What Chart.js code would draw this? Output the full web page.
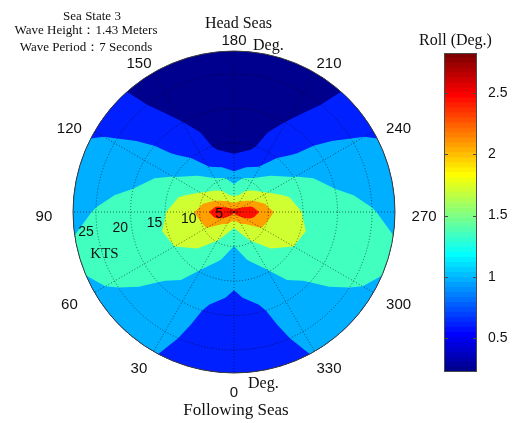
<!DOCTYPE html>
<html>
<head>
<meta charset="utf-8">
<script src="https://cdn.jsdelivr.net/npm/chart.js@4"></script>
<style>
  html, body { margin: 0; padding: 0; background: #fff; }
  #wrap { position: relative; width: 512px; height: 423px; }
  #wrap canvas { position: absolute; left: 0; top: 0; }
</style>
</head>
<body>
<div id="wrap">
  <canvas id="polar" width="512" height="423"></canvas>
  <canvas id="colorbar" width="512" height="423"></canvas>
</div>
<script>
// roll amplitude (deg) by heading (deg) and ship speed (kts), port side; starboard mirrors it
const headings = [0, 15, 30, 45, 60, 75, 90, 105, 120, 135, 150, 165, 180];
const speeds = [5, 7.5, 10, 12.5, 15, 17.5, 20, 22.5, 25, 28.33];

const roll000 = [2.50, 1.67, 1.33, 1.17, 1.02, 0.92, 0.85, 0.80, 0.75, 0.70];
const roll015 = [2.50, 1.77, 1.51, 1.31, 1.18, 1.04, 0.91, 0.85, 0.80, 0.74];
const roll030 = [2.55, 1.97, 1.69, 1.47, 1.32, 1.26, 1.20, 1.14, 1.08, 1.00];
const roll045 = [2.65, 2.08, 1.89, 1.71, 1.56, 1.41, 1.30, 1.23, 1.15, 1.05];
const roll060 = [2.70, 2.35, 2.04, 1.87, 1.71, 1.63, 1.55, 1.47, 1.39, 1.28];
const roll075 = [2.78, 2.55, 2.09, 1.92, 1.74, 1.65, 1.58, 1.52, 1.47, 1.41];
const roll090 = [2.83, 2.70, 2.17, 1.90, 1.70, 1.62, 1.52, 1.44, 1.36, 1.25];
const roll105 = [2.78, 2.52, 2.02, 1.77, 1.59, 1.43, 1.31, 1.25, 1.19, 1.12];
const roll120 = [2.70, 2.23, 1.77, 1.55, 1.35, 1.26, 1.18, 1.09, 1.01, 0.93];
const roll135 = [2.65, 2.02, 1.61, 1.33, 1.06, 0.92, 0.85, 0.78, 0.71, 0.66];
const roll150 = [2.60, 1.89, 1.48, 0.98, 0.84, 0.72, 0.60, 0.50, 0.42, 0.36];
const roll165 = [2.60, 1.71, 1.36, 0.79, 0.52, 0.45, 0.39, 0.34, 0.30, 0.27];
const roll180 = [2.60, 1.65, 1.15, 0.65, 0.50, 0.42, 0.36, 0.32, 0.28, 0.25];
const rollRows = [roll000, roll015, roll030, roll045, roll060, roll075, roll090,
                  roll105, roll120, roll135, roll150, roll165, roll180];

const headingLabels = ['180', '210', '240', '270', '300', '330', '0', '30', '60', '90', '120', '150'];
const speedTicks = [5, 10, 15, 20, 25];
const contourLevels = [0.593, 0.966, 1.339, 1.712, 2.085, 2.458, 2.75];
const colorbarTicks = [0.5, 1, 1.5, 2, 2.5];
const rollMin = 0.22;
const rollMax = 2.83;

const SANS = '"Liberation Sans", Arial, Helvetica, sans-serif';
const SERIF = '"Liberation Serif", "Times New Roman", Times, serif';

// MATLAB-style jet(64)
function jet64() {
  const n = 64, m = 16, u = [];
  for (let i = 1; i <= m; i++) u.push(i / m);
  for (let i = 1; i < m; i++) u.push(1);
  for (let i = m; i >= 1; i--) u.push(i / m);
  const g0 = Math.ceil(m / 2);
  const rows = Array.from({ length: n }, () => [0, 0, 0]);
  u.forEach((val, k) => {
    const gi = g0 + k + 1, ri = gi + m, bi = gi - m;
    if (ri >= 1 && ri <= n) rows[ri - 1][0] = val;
    if (gi >= 1 && gi <= n) rows[gi - 1][1] = val;
    if (bi >= 1 && bi <= n) rows[bi - 1][2] = val;
  });
  return rows.map(([r, g, b]) =>
    `rgb(${Math.round(r * 255)},${Math.round(g * 255)},${Math.round(b * 255)})`);
}
const jet = jet64();
const nBands = contourLevels.length + 1;
const bandColors = Array.from({ length: nBands }, (_, k) =>
  jet[Math.min(jet.length - 1, Math.floor(k * jet.length / (nBands - 1)))]);

// full-circle columns: 0..360 with the starboard half mirrored
function rollColumns() {
  const cols = [];
  for (let i = 0; i < headings.length; i++) cols.push({ h: headings[i], v: rollRows[i] });
  for (let i = headings.length - 2; i >= 0; i--) cols.push({ h: 360 - headings[i], v: rollRows[i] });
  return cols;
}

// keep the part of a cell where roll >= level (values linear along cell edges)
function clipCell(poly, level) {
  const out = [];
  for (let i = 0; i < poly.length; i++) {
    const a = poly[i], b = poly[(i + 1) % poly.length];
    const aIn = a.v >= level, bIn = b.v >= level;
    if (aIn) out.push(a);
    if (aIn !== bIn) {
      const t = (level - a.v) / (b.v - a.v);
      out.push({ h: a.h + t * (b.h - a.h), s: a.s + t * (b.s - a.s), v: level });
    }
  }
  return out;
}

function tracePoly(ctx, poly, pt) {
  const p0 = pt(poly[0].h, poly[0].s);
  ctx.moveTo(p0.x, p0.y);
  for (let i = 0; i < poly.length; i++) {
    const a = poly[i], b = poly[(i + 1) % poly.length];
    if (Math.abs(a.s - b.s) < 1e-9 && a.h !== b.h) {
      // follow the speed ring
      const n = Math.max(1, Math.ceil(Math.abs(b.h - a.h)));
      for (let j = 1; j <= n; j++) {
        const p = pt(a.h + (b.h - a.h) * j / n, a.s);
        ctx.lineTo(p.x, p.y);
      }
    } else {
      const p = pt(b.h, b.s);
      ctx.lineTo(p.x, p.y);
    }
  }
  ctx.closePath();
}

const rollContour = {
  id: 'rollContour',
  beforeDraw(chart) {
    const r = chart.scales.r, ctx = chart.ctx;
    const pt = (h, s) => r.getPointPosition((h + 180) / 30, r.getDistanceFromCenterForValue(s));
    const cols = rollColumns();
    ctx.save();
    for (let k = 0; k < nBands; k++) {
      const level = k === 0 ? -Infinity : contourLevels[k - 1];
      ctx.beginPath();
      for (let i = 0; i < cols.length - 1; i++) {
        const c0 = cols[i], c1 = cols[i + 1];
        for (let j = 0; j < speeds.length - 1; j++) {
          const cell = [
            { h: c0.h, s: speeds[j], v: c0.v[j] },
            { h: c1.h, s: speeds[j], v: c1.v[j] },
            { h: c1.h, s: speeds[j + 1], v: c1.v[j + 1] },
            { h: c0.h, s: speeds[j + 1], v: c0.v[j + 1] },
          ];
          const poly = clipCell(cell, level);
          if (poly.length >= 3) tracePoly(ctx, poly, pt);
        }
      }
      ctx.fillStyle = bandColors[k];
      ctx.fill();
    }
    ctx.restore();
  },
  afterDraw(chart) {
    const r = chart.scales.r, ctx = chart.ctx;
    const cx = r.xCenter;
    ctx.save();
    ctx.fillStyle = '#111';

    // heading labels
    ctx.font = '15px ' + SANS;
    ctx.textAlign = 'center';
    ctx.textBaseline = 'middle';
    headingLabels.forEach((lab, i) => {
      const p = r.getPointPosition(i, r.drawingArea + 15);
      ctx.fillText(lab, cx + (p.x - cx) * 1.08, p.y + 4.5);
    });

    // speed ring labels
    ctx.font = '14px ' + SANS;
    ctx.textAlign = 'left';
    speedTicks.forEach(v => {
      const p = r.getPointPosition((82.6 + 180) / 30, r.getDistanceFromCenterForValue(v) + 19);
      ctx.fillText(String(v), p.x, p.y);
    });

    ctx.textBaseline = 'alphabetic';
    ctx.font = '15px ' + SERIF;
    ctx.textAlign = 'center';
    ctx.fillText('KTS', 104.5, 258);

    ctx.font = '16px ' + SERIF;
    ctx.fillText('Head Seas', 238.5, 28);
    ctx.font = '17px ' + SERIF;
    ctx.fillText('Following Seas', 236, 415);
    ctx.font = '16px ' + SERIF;
    ctx.textAlign = 'left';
    ctx.fillText('Deg.', 253, 50);
    ctx.fillText('Deg.', 248, 388);

    ctx.font = '13px ' + SERIF;
    ctx.textAlign = 'center';
    ctx.fillText('Sea State 3', 92, 20);
    ctx.fillText('Wave Height\uFF1A1.43 Meters', 86, 34);
    ctx.fillText('Wave Period\uFF1A7 Seconds', 86, 51);
    ctx.restore();
  }
};

const outerSpeed = speeds[speeds.length - 1];
const dotted = 'rgba(0,0,0,0.55)';

new Chart(document.getElementById('polar'), {
  type: 'radar',
  data: { labels: headingLabels, datasets: [] },
  options: {
    responsive: false,
    animation: false,
    layout: { padding: { left: 73, right: 117, top: 51, bottom: 50 } },
    plugins: { legend: { display: false }, tooltip: { enabled: false } },
    scales: {
      r: {
        min: speeds[0],
        max: outerSpeed,
        startAngle: 0,
        afterBuildTicks: (scale) => {
          scale.ticks = speedTicks.concat([outerSpeed]).map(v => ({ value: v }));
        },
        ticks: { display: false },
        pointLabels: { display: false },
        grid: {
          circular: true,
          lineWidth: 1,
          color: (c) => (c.tick && c.tick.value >= outerSpeed ? '#3a3a3a' : dotted),
        },
        border: { dash: (c) => (c.tick && c.tick.value >= outerSpeed ? [] : [1, 2]) },
        angleLines: { color: dotted, lineWidth: 1, borderDash: [1, 2] },
      },
    },
  },
  plugins: [rollContour],
});

// colour scale
const cbEdges = jet.map((_, i) => rollMin + (rollMax - rollMin) * i / jet.length).concat([rollMax]);

const colorbarFrame = {
  id: 'colorbarFrame',
  afterDatasetsDraw(chart) {
    const { left, right, top, bottom } = chart.chartArea;
    const y = chart.scales.y, ctx = chart.ctx;
    ctx.save();
    ctx.strokeStyle = '#4a4a4a';
    ctx.lineWidth = 1;
    ctx.strokeRect(left + 0.5, top + 0.5, right - left - 1, bottom - top - 1);
    ctx.beginPath();
    colorbarTicks.forEach(v => {
      const py = Math.round(y.getPixelForValue(v)) + 0.5;
      ctx.moveTo(left, py); ctx.lineTo(left + 4, py);
      ctx.moveTo(right - 4, py); ctx.lineTo(right, py);
    });
    ctx.stroke();
    ctx.fillStyle = '#111';
    ctx.font = '16px ' + SERIF;
    ctx.textAlign = 'center';
    ctx.fillText('Roll (Deg.)', 455.5, 45);
    ctx.restore();
  }
};

new Chart(document.getElementById('colorbar'), {
  type: 'bar',
  data: {
    labels: [''],
    datasets: jet.map((c, i) => ({
      data: [[cbEdges[i], cbEdges[i + 1]]],
      backgroundColor: c,
      borderWidth: 0,
    })),
  },
  options: {
    responsive: false,
    animation: false,
    layout: { padding: { left: 444, right: 0, top: 53, bottom: 51 } },
    plugins: { legend: { display: false }, tooltip: { enabled: false } },
    datasets: { bar: { grouped: false, barPercentage: 1, categoryPercentage: 1 } },
    scales: {
      x: { display: false },
      y: {
        position: 'right',
        min: rollMin,
        max: rollMax,
        afterBuildTicks: (scale) => { scale.ticks = colorbarTicks.map(v => ({ value: v })); },
        afterFit: (scale) => { scale.width = 35; },
        grid: { display: false },
        border: { display: false },
        ticks: { color: '#111', font: { family: SANS, size: 14 }, padding: 3, callback: (v) => String(v) },
      },
    },
  },
  plugins: [colorbarFrame],
});
</script>
</body>
</html>
